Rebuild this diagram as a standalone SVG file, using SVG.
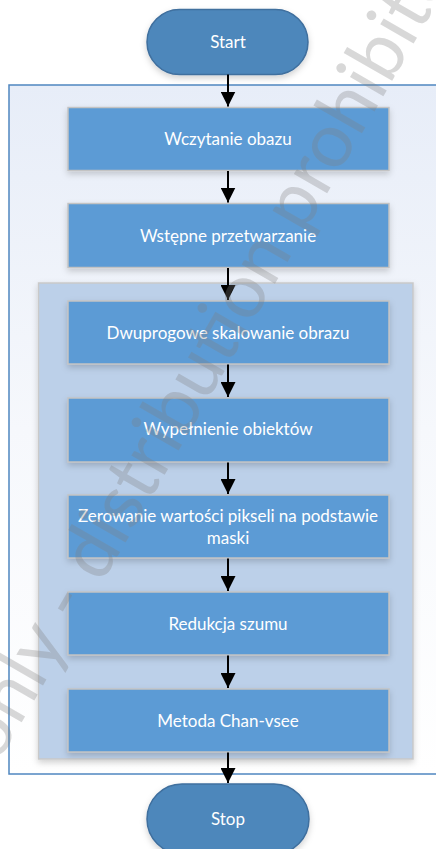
<svg xmlns="http://www.w3.org/2000/svg" width="436" height="849" viewBox="0 0 436 849">
  <defs>
    <linearGradient id="outerFill" x1="0" y1="0" x2="0" y2="1">
      <stop offset="0" stop-color="#e7edf8"/>
      <stop offset="0.5" stop-color="#f6f8fc"/>
      <stop offset="1" stop-color="#ffffff"/>
    </linearGradient>
    <filter id="shadow" x="-10%" y="-10%" width="120%" height="130%">
      <feDropShadow dx="0" dy="3" stdDeviation="3" flood-color="#000" flood-opacity="0.18"/>
    </filter>
    <marker id="arrow" markerUnits="userSpaceOnUse" viewBox="0 0 15 15" refX="15" refY="7.5" markerWidth="15" markerHeight="15" orient="auto">
      <path d="M0,0 L15,7.5 L0,15 z" fill="#000"/>
    </marker>
  </defs>
  <style>
    .outer { fill: url(#outerFill); stroke: #4f86c0; stroke-width: 1.5; }
    .inner { fill: #bcd0e9; stroke: #c9c9c9; stroke-width: 1.5; filter: url(#shadow); }
    .proc { fill: #5b9bd5; stroke: #c3c3c3; stroke-width: 1.5; filter: url(#shadow); }
    .term { fill: #4d87bb; stroke: #3f6f9e; stroke-width: 1.5; filter: url(#shadow); }
    .label { font-family: Lato, "Liberation Sans", sans-serif; font-size: 17px; fill: #ffffff; text-anchor: middle; }
    .conn line { stroke: #000; stroke-width: 2; marker-end: url(#arrow); }
    .mark { font-family: Lato, "Liberation Sans", sans-serif; font-size: 76px; fill: #808080; opacity: 0.3; }
  </style>

  <!-- containers -->
  <rect id="outer-frame" class="outer" x="9" y="85" width="440" height="689"/>
  <rect id="inner-frame" class="inner" x="38.5" y="283" width="374.5" height="476"/>

  <!-- terminals and steps -->
  <g id="start">
    <rect class="term" x="147" y="9.5" width="161" height="65" rx="32.5"/>
    <text class="label" x="228" y="47.5">Start</text>
  </g>
  <g id="step-load">
    <rect class="proc" x="68" y="107.5" width="321" height="63"/>
    <text class="label" x="228" y="145">Wczytanie obazu</text>
  </g>
  <g id="step-preprocess">
    <rect class="proc" x="68" y="203.5" width="321" height="64"/>
    <text class="label" x="228" y="242">Wstępne przetwarzanie</text>
  </g>
  <g id="step-threshold">
    <rect class="proc" x="68" y="301" width="321" height="63"/>
    <text class="label" x="228" y="338.5">Dwuprogowe skalowanie obrazu</text>
  </g>
  <g id="step-fill">
    <rect class="proc" x="68" y="398" width="321" height="64"/>
    <text class="label" x="228" y="435">Wypełnienie obiektów</text>
  </g>
  <g id="step-mask">
    <rect class="proc" x="68" y="495" width="321" height="63"/>
    <text class="label" x="228" y="521.5">Zerowanie wartości pikseli na podstawie</text>
    <text class="label" x="228" y="543.5">maski</text>
  </g>
  <g id="step-denoise">
    <rect class="proc" x="68" y="592" width="321" height="63"/>
    <text class="label" x="228" y="630">Redukcja szumu</text>
  </g>
  <g id="step-chanvese">
    <rect class="proc" x="68" y="689" width="321" height="63"/>
    <text class="label" x="228" y="726.5">Metoda Chan-vsee</text>
  </g>
  <g id="stop">
    <rect class="term" x="147" y="784" width="162" height="70" rx="35"/>
    <text class="label" x="228" y="825">Stop</text>
  </g>

  <!-- connectors -->
  <g id="connectors" class="conn">
    <line x1="228" y1="74.5" x2="228" y2="106.5"/>
    <line x1="228" y1="171" x2="228" y2="202.5"/>
    <line x1="228" y1="268" x2="228" y2="300"/>
    <line x1="228" y1="364.5" x2="228" y2="397"/>
    <line x1="228" y1="462.5" x2="228" y2="494"/>
    <line x1="228" y1="558.5" x2="228" y2="591"/>
    <line x1="228" y1="655.5" x2="228" y2="688"/>
    <line x1="228" y1="752.5" x2="228" y2="783"/>
  </g>

  <!-- overlay notice -->
  <text class="mark" transform="translate(63,607) rotate(-60)" x="-169" y="22">only - distribution prohibited</text>
</svg>
